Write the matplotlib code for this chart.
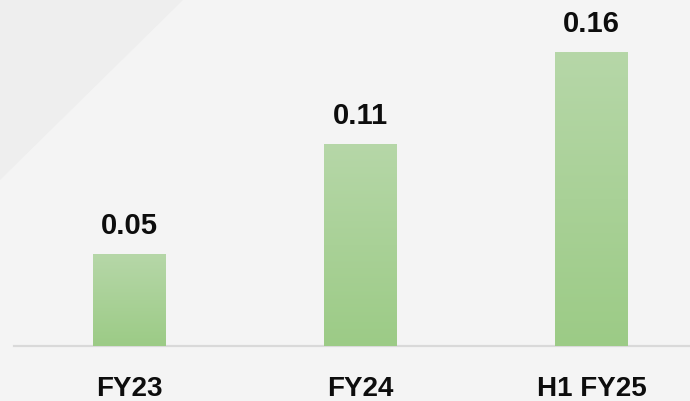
import numpy as np
import matplotlib.pyplot as plt
from matplotlib.patches import Polygon

categories = ["FY23", "FY24", "H1 FY25"]
values = [0.05, 0.11, 0.16]

W, H = 690, 401
fig = plt.figure(figsize=(W / 100, H / 100), dpi=100)
fig.patch.set_facecolor("#f4f4f4")

# lighter-grey diagonal corner in the background
corner = Polygon([(0, 1), (183 / W, 1), (0, 1 - 180 / H)], closed=True,
                 transform=fig.transFigure, facecolor="#eeeeee", edgecolor="none")
fig.patches.append(corner)

slot = 231
ax = fig.add_axes([14 / W, 55 / H, 676 / W, 346 / H])
ax.set_facecolor("none")

bar_w = 73 / slot
x = np.arange(len(categories))
bars = ax.bar(x, values, width=bar_w, color="#a8d197", edgecolor="none", zorder=2)

# vertical green gradient on each bar
grad = np.linspace(0, 1, 256).reshape(-1, 1)
cmap = plt.matplotlib.colors.LinearSegmentedColormap.from_list(
    "g", ["#9ccb86", "#b6d7a8"])
for b in bars:
    bx, by = b.get_x(), b.get_y()
    im = ax.imshow(grad, cmap=cmap, origin="lower", aspect="auto",
                   extent=[bx, bx + b.get_width(), by, by + b.get_height()],
                   zorder=3)
    im.set_clip_path(b)

ax.set_xlim(-0.5, -0.5 + 676 / slot)
ax.set_ylim(0, 346 / 1837)

for xi, v in zip(x, values):
    ax.annotate(f"{v:.2f}", (xi, v), xytext=(0, 14.4), textcoords="offset points",
                ha="center", va="baseline", fontsize=21, fontweight="bold",
                family="Liberation Sans", color="#0d0d0d")

for s in ["top", "right", "left"]:
    ax.spines[s].set_visible(False)
ax.spines["bottom"].set_color("#d9d9d9")
ax.spines["bottom"].set_linewidth(1.6)
ax.set_yticks([])
ax.set_xticks(x)
ax.set_xticklabels(categories, fontsize=20, fontweight="bold",
                   family="Liberation Sans", color="#0d0d0d")
ax.tick_params(axis="x", length=0, pad=21.5)

fig.savefig("out.png", dpi=100, facecolor=fig.get_facecolor())
